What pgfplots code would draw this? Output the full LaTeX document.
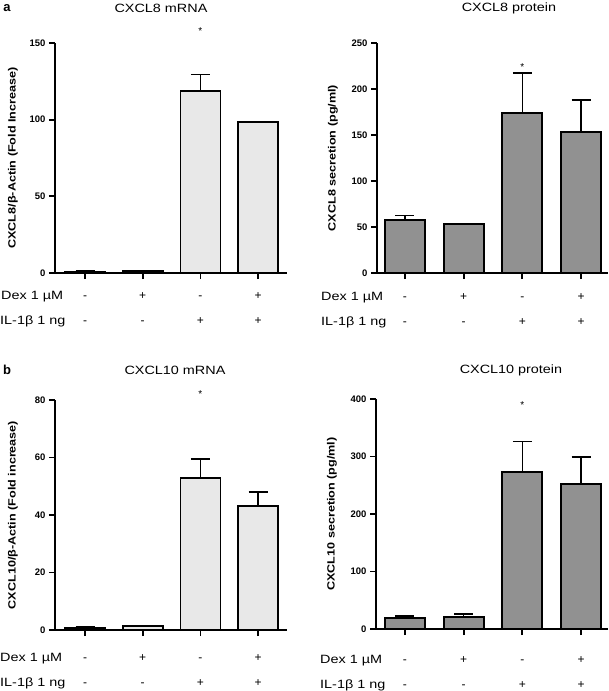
\documentclass[border=0pt]{standalone}
\usepackage{fontspec}
\setmainfont{Liberation Sans}
\usepackage{graphicx}
\usepackage{pgfplots}
\pgfplotsset{compat=1.18}

\definecolor{mrnafill}{RGB}{232,232,232}
\definecolor{protfill}{RGB}{145,145,145}

% the figure's text is set a little wider than plain Arial
\newcommand\wtext[1]{\scalebox{1.2}[1]{#1}}

\pgfplotsset{
  panel/.style={
    scale only axis, width=232pt, height=230pt,
    axis lines=left, axis line style={-, line width=2.2pt},
    ymin=0, xtick={1,2,3,4}, xticklabels={},
    tick align=outside, major tick length=6pt,
    tick style={line width=1.8pt, black},
    yticklabel style={font=\fontsize{9.5}{10}\selectfont\bfseries},
    /pgf/number format/assume math mode=true,
    clip=false, ybar, bar width=40pt,
  },
  ylab/.style={every axis y label/.style={at={(rel axis cs:0,0.5)}, xshift=#1,
      anchor=center, rotate=90, font=\fontsize{10.5}{12}\selectfont\bfseries}},
  bars/.style={draw=black, line width=1.8pt, fill=#1,
    error bars/.cd, y dir=plus, y explicit,
    error bar style={line width=1.5pt, black},
    error mark options={rotate=90, mark size=9.5pt, line width=1.5pt, black}},
}
\tikzset{signs/.style={font=\fontsize{12}{14}\selectfont, anchor=base}}

% signs under the four bars: #1 = depth of first row, #2 = depth of second row
\newcommand\signrows[2]{%
  \node[signs] at ([yshift=-#1]axis cs:1,0) {-};
  \node[signs] at ([yshift=-#1]axis cs:2,0) {+};
  \node[signs] at ([yshift=-#1]axis cs:3,0) {-};
  \node[signs] at ([yshift=-#1]axis cs:4,0) {+};
  \node[signs] at ([yshift=-#2]axis cs:1,0) {-};
  \node[signs] at ([yshift=-#2]axis cs:2,0) {-};
  \node[signs] at ([yshift=-#2]axis cs:3,0) {+};
  \node[signs] at ([yshift=-#2]axis cs:4,0) {+};
}

\begin{document}
\begin{tikzpicture}
\useasboundingbox (0,0) rectangle (609pt,-691pt);

% ---- a: CXCL8 mRNA
\begin{axis}[panel, ylab=-42pt, at={(55pt,-273pt)}, anchor=south west,
  xmin=0.48, xmax=4.5, ymax=150, ytick={0,50,100,150},
  ylabel={\wtext{CXCL8/β-Actin (Fold Increase)}}]
\addplot[bars=mrnafill] table[x=x, y=y, y error=e] {
x y e
1 1.0 0.3
2 1.2 0.2
3 118.5 11
4 98.3 0.3
};
\signrows{26pt}{51pt}
\node[font=\fontsize{10}{12}\selectfont] at (axis cs:3,158) {*};
\end{axis}

% ---- a: CXCL8 protein
\begin{axis}[panel, ylab=-44pt, at={(377pt,-273pt)}, anchor=south west, width=231pt,
  xmin=0.523, xmax=4.46, ymax=250, ytick={0,50,100,150,200,250},
  ylabel={\wtext{CXCL8 secretion (pg/ml)}}]
\addplot[bars=protfill] table[x=x, y=y, y error=e] {
x y e
1 57.5 4.8
2 53 0
3 174 43.5
4 153.5 34.5
};
\signrows{27pt}{52pt}
\node[font=\fontsize{10}{12}\selectfont] at (axis cs:3,224) {*};
\end{axis}

% ---- b: CXCL10 mRNA
\begin{axis}[panel, ylab=-42pt, at={(55pt,-630pt)}, anchor=south west,
  xmin=0.48, xmax=4.5, ymax=80, ytick={0,20,40,60,80},
  ylabel={\wtext{CXCL10/β-Actin (Fold increase)}}]
\addplot[bars=mrnafill] table[x=x, y=y, y error=e] {
x y e
1 0.8 0.2
2 1.3 0.2
3 53 6.5
4 43.2 4.8
};
\signrows{31pt}{56pt}
\node[font=\fontsize{10}{12}\selectfont] at (axis cs:3,82) {*};
\end{axis}

% ---- b: CXCL10 protein
\begin{axis}[panel, ylab=-44pt, at={(376pt,-629pt)}, anchor=south west,
  xmin=0.506, xmax=4.46, ymax=400, ytick={0,100,200,300,400},
  ylabel={\wtext{CXCL10 secretion (pg/ml)}}]
\addplot[bars=protfill] table[x=x, y=y, y error=e] {
x y e
1 19 4
2 21 5.5
3 273 53
4 252 47
};
\signrows{34pt}{59pt}
\node[font=\fontsize{10}{12}\selectfont] at (axis cs:3,390) {*};
\end{axis}

% titles, panel letters and row labels
\begin{scope}[every node/.style={font=\fontsize{12}{14}\selectfont}]
\node at (161pt,-8pt) {\wtext{CXCL8 mRNA}};
\node at (509pt,-8pt) {\wtext{CXCL8 protein}};
\node at (175pt,-370pt) {\wtext{CXCL10 mRNA}};
\node at (511pt,-370pt) {\wtext{CXCL10 protein}};
\node[anchor=base west, inner sep=0pt] at (1pt,-299pt) {\wtext{Dex 1 µM}};
\node[anchor=base west, inner sep=0pt] at (0pt,-324pt) {\wtext{IL-1β 1 ng}};
\node[anchor=base west, inner sep=0pt] at (321pt,-300pt) {\wtext{Dex 1 µM}};
\node[anchor=base west, inner sep=0pt] at (321pt,-325pt) {\wtext{IL-1β 1 ng}};
\node[anchor=base west, inner sep=0pt] at (0pt,-661pt) {\wtext{Dex 1 µM}};
\node[anchor=base west, inner sep=0pt] at (0pt,-686pt) {\wtext{IL-1β 1 ng}};
\node[anchor=base west, inner sep=0pt] at (320pt,-663pt) {\wtext{Dex 1 µM}};
\node[anchor=base west, inner sep=0pt] at (320pt,-688pt) {\wtext{IL-1β 1 ng}};
\end{scope}
\node[font=\fontsize{13}{14}\selectfont\bfseries] at (7pt,-8pt) {a};
\node[font=\fontsize{13}{14}\selectfont\bfseries] at (7pt,-370pt) {b};
\end{tikzpicture}
\end{document}
